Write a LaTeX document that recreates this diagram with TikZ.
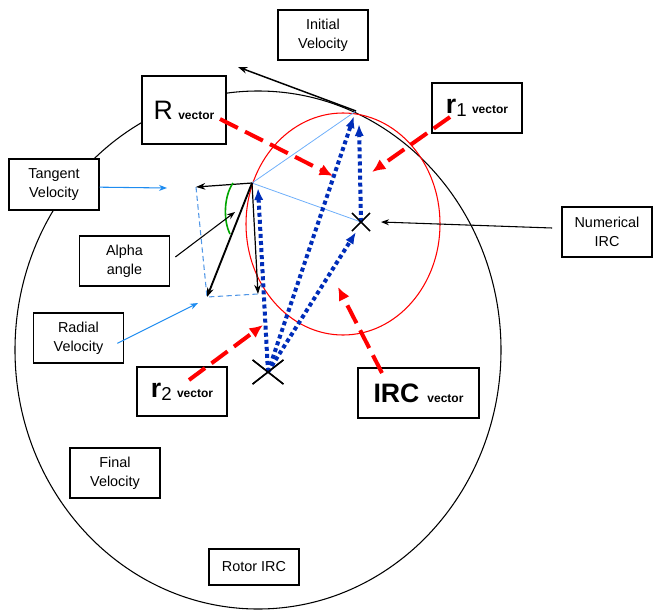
\documentclass[tikz,border=0pt]{standalone}
\usepackage{fontspec}
\setmainfont{Liberation Sans}
\usetikzlibrary{arrows.meta, shapes.misc}

\definecolor{guideblue}{RGB}{110,175,250}
\definecolor{compblue}{RGB}{80,150,230}
\definecolor{pointblue}{RGB}{30,140,240}
\definecolor{vecblue}{RGB}{0,45,185}
\definecolor{arcgreen}{RGB}{0,165,0}

\newcommand{\bigletters}{\fontsize{20}{20}\selectfont}
\newcommand{\subdigit}[1]{{\fontsize{14}{14}\selectfont\raisebox{-2pt}{#1}}}
\newcommand{\vecword}{{\fontsize{9}{9}\selectfont\bfseries vector}}

\begin{document}
\begin{tikzpicture}[
    x=0.75pt, y=-0.75pt,
    font=\fontsize{10.8}{14}\selectfont,
    textbox/.style={rectangle, draw=black, fill=white, line width=0.8pt, align=center, inner sep=0pt, minimum width=67.5pt, minimum height=37.5pt},
    vecbox/.style={textbox},
    velarrow/.style={-{Stealth[length=7pt, width=5pt]}, line width=1.1pt, draw=black},
    pointer/.style={-{Stealth[length=6pt, width=4.5pt]}, line width=0.8pt, draw=black},
    bluepointer/.style={-{Stealth[length=6pt, width=4.5pt]}, line width=0.8pt, draw=pointblue},
    redvec/.style={-{Latex[length=10pt, width=9pt]}, line width=3pt, draw=red, dash pattern=on 15pt off 6pt},
    bluevec/.style={-{Latex[length=9pt, width=7pt]}, line width=3pt, draw=vecblue, dash pattern=on 3pt off 2.3pt},
    guide/.style={draw=guideblue, line width=0.6pt},
    construct/.style={draw=compblue, line width=0.8pt, dash pattern=on 4pt off 2.5pt},
    anglearc/.style={draw=arcgreen, line width=1.2pt},
    xmark/.style={cross out, draw=black, line width=1.1pt, inner sep=0pt}
  ]
    \useasboundingbox (0,0) rectangle (667,611);

    % rotor and IRC circles
    \draw[line width=0.8pt] (258,350) ellipse [x radius=182.25pt, y radius=194.25pt];
    \draw[red, line width=0.8pt] (343,224) ellipse [x radius=72.75pt, y radius=83.25pt];

    % points
    \coordinate (Ptop) at (356,111);
    \coordinate (A) at (252,183);
    \coordinate (Tv) at (196,187);
    \coordinate (Fv) at (207,297);
    \coordinate (Rd) at (258,294);
    \coordinate (initip) at (238,67);
    \coordinate (g1) at (233,183);
    \coordinate (g2) at (230,234);

    \node[xmark, minimum width=22pt, minimum height=17pt] (xrotor) at (268,372) {};
    \node[xmark, minimum size=12.5pt, line width=1pt] (xnum) at (361,222) {};

    % labels
    \node[textbox] (initv) at (323,35) {Initial\\Velocity};
    \node[vecbox, minimum width=63pt, minimum height=51pt] (Rv) at (184,110) {{\bigletters R}\hspace{4pt}\vecword};
    \node[vecbox] (r1v) at (477,108) {{\bigletters\bfseries r}\subdigit{1}\hspace{4pt}\vecword};
    \node[textbox, minimum height=38.25pt] (tanv) at (54,184.5) {Tangent\\Velocity};
    \node[textbox] (numirc) at (607,232) {Numerical\\IRC};
    \node[textbox] (alpha) at (124.5,261) {Alpha\\angle};
    \node[textbox] (radv) at (78.5,338) {Radial\\Velocity};
    \node[vecbox, minimum height=36.75pt] (r2v) at (182,391.5) {{\bigletters\bfseries r}\subdigit{2}\hspace{4pt}\vecword};
    \node[vecbox, minimum width=90.75pt] (ircv) at (418.5,393) {{\bigletters\bfseries IRC}\hspace{6pt}\vecword};
    \node[textbox] (finalv) at (115,473) {Final\\Velocity};
    \node[textbox, minimum height=27pt] (rotor) at (254,567) {Rotor IRC};

    % velocity construction
    \draw[guide] (A) -- (Ptop);
    \draw[guide] (A) -- (xnum.center);
    \draw[construct] (Tv) -- (Fv) -- (Rd);
    \draw[velarrow] (Ptop) -- (initip);
    \draw[velarrow, line width=0.9pt] (A) -- (Tv);
    \draw[velarrow, line width=1.4pt] (A) -- (Fv);
    \draw[velarrow, line width=0.9pt] (A) -- (Rd);
    \draw[anglearc] (g1) .. controls (224,196) and (223,220) .. (g2);

    % position vectors
    \coordinate (r2tip) at (258,188);
    \coordinate (Rtip) at (354,116);
    \coordinate (irctip) at (356,232);
    \coordinate (r1tip) at (359,124);
    \draw[bluevec] (xrotor.center) -- (r2tip);
    \draw[bluevec] (xrotor.center) -- (Rtip);
    \draw[bluevec] (xrotor.center) -- (irctip);
    \draw[bluevec] (xnum.center) -- (r1tip);
    \node[xmark, minimum width=22pt, minimum height=17pt] at (xrotor) {};
    \node[xmark, minimum size=12.5pt, line width=1pt] at (xnum) {};

    % label pointers
    \coordinate (tantip) at (167,188);
    \coordinate (radtip) at (198,303);
    \coordinate (alphatip) at (235,212);
    \coordinate (numtip) at (381,222);
    \draw[bluepointer] ([yshift=-2pt]tanv.east) -- (tantip);
    \draw[bluepointer] ([shift={(-5pt,-4pt)}]radv.east) -- (radtip);
    \draw[pointer] ([shift={(4pt,3pt)}]alpha.east) -- (alphatip);
    \draw[pointer] ([shift={(-7pt,3pt)}]numirc.west) -- (numtip);

    \coordinate (Rtail) at (220,119);
    \coordinate (r1tail) at (450,117);
    \coordinate (r2tail) at (189,380);
    \coordinate (irctail) at (382,373);
    \draw[redvec] (Rtail) -- (333,176);
    \draw[redvec] (r1tail) -- (372,172);
    \draw[redvec] (r2tail) -- (263,325);
    \draw[redvec] (irctail) -- (338,287);

  \end{tikzpicture}
\end{document}
